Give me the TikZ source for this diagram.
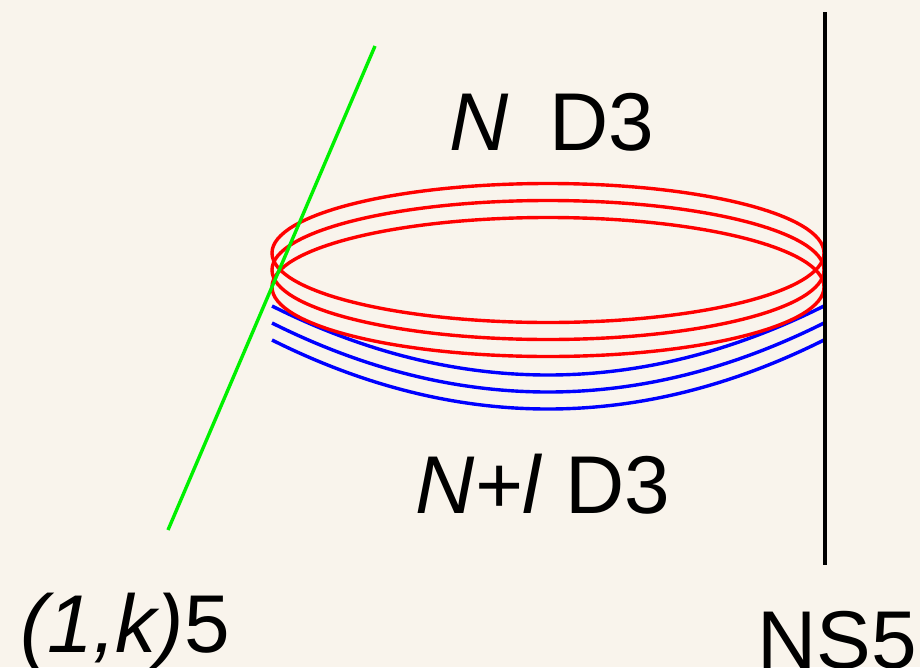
\documentclass[tikz,border=0pt]{standalone}
\usepackage{xcolor}
\usepackage{fontspec}
\setmainfont{Liberation Sans}
\definecolor{paper}{HTML}{F9F4EC}
\definecolor{brane}{HTML}{00F000}
\begin{document}
\begin{tikzpicture}[x=1pt,y=-1pt,line width=3.4pt,font=\fontsize{82}{90}\selectfont]
\useasboundingbox (0,0) rectangle (920,667);
\clip (0,0) rectangle (920,667);
\fill[paper] (0,0) rectangle (920,667);
\foreach \yc in {306,323,340}
  \draw[blue] (272,\yc) .. controls (456,\yc+92) and (640,\yc+92) .. (824,\yc);
\foreach \yc in {253,270,287}
  \draw[red] (548,\yc) ellipse[x radius=276,y radius=69.5];
\draw[brane] (375,46)--(168,530);
\draw[black] (825,12)--(825,565);
\node[anchor=base] (upper) at (552,150) {\textit{N}\hspace{18pt} D3};
\node[anchor=base] (lower) at (543,513) {\textit{N+l} D3};
\node[anchor=base] (green) at (125,652) {\textit{(1,k)}5};
\node[anchor=base] (ns) at (837,668) {NS5};
\end{tikzpicture}
\end{document}
